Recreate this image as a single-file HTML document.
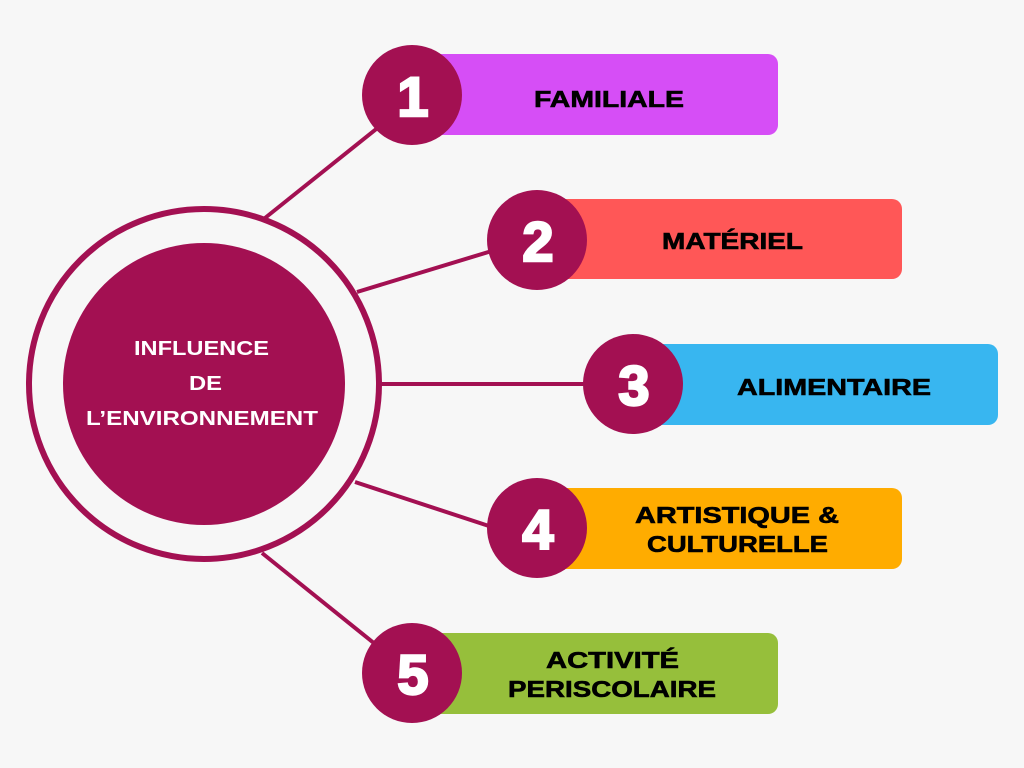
<!DOCTYPE html>
<html><head><meta charset="utf-8"><style>
body{margin:0;background:#f7f7f7;}
svg{display:block}
text{font-family:"Liberation Sans",sans-serif;font-weight:bold;}
</style></head><body>
<svg width="1024" height="768" viewBox="0 0 1024 768">
<rect width="1024" height="768" fill="#f7f7f7"/>
<g stroke="#a31052" stroke-width="4">
<line x1="265" y1="218" x2="385" y2="122"/>
<line x1="357" y1="292" x2="495" y2="250"/>
<line x1="380" y1="384" x2="590" y2="384"/>
<line x1="355" y1="482" x2="495" y2="528"/>
<line x1="262" y1="553" x2="380" y2="648"/>
</g>
<rect x="430" y="54" width="348" height="81" rx="10" fill="#d64ef6"/>
<rect x="555" y="199" width="347" height="80" rx="10" fill="#ff5757"/>
<rect x="650" y="344" width="348" height="81" rx="10" fill="#38b6f0"/>
<rect x="555" y="488" width="347" height="81" rx="10" fill="#ffac00"/>
<rect x="430" y="633" width="348" height="81" rx="10" fill="#96bf3b"/>
<circle cx="204" cy="384" r="175" fill="none" stroke="#a31052" stroke-width="6"/>
<circle cx="204" cy="384" r="141" fill="#a31052"/>
<g fill="#a31052">
<circle cx="412" cy="95" r="50"/>
<circle cx="537" cy="240" r="50"/>
<circle cx="633" cy="384" r="50"/>
<circle cx="537" cy="528" r="50"/>
<circle cx="412" cy="673" r="50"/>
</g>
<g fill="#fff" stroke="#fff" stroke-width="2.5" font-size="56" text-anchor="middle">
<text x="413" y="116">1</text>
<text x="538" y="261">2</text>
<text x="634" y="405">3</text>
<text x="538" y="549">4</text>
<text x="413" y="694">5</text>
</g>
<g fill="#fff" font-size="20">
<text x="134" y="355" textLength="135" lengthAdjust="spacingAndGlyphs">INFLUENCE</text>
<text x="189" y="390" textLength="33" lengthAdjust="spacingAndGlyphs">DE</text>
<text x="86" y="425" textLength="232" lengthAdjust="spacingAndGlyphs">L’ENVIRONNEMENT</text>
</g>
<g fill="#000" font-size="23" stroke="#000" stroke-width="0.6">
<text x="534" y="107" textLength="150" lengthAdjust="spacingAndGlyphs">FAMILIALE</text>
<text x="662" y="249" textLength="141" lengthAdjust="spacingAndGlyphs">MATÉRIEL</text>
<text x="737" y="395" textLength="194" lengthAdjust="spacingAndGlyphs">ALIMENTAIRE</text>
<text x="635" y="523" textLength="204" lengthAdjust="spacingAndGlyphs">ARTISTIQUE &amp;</text>
<text x="647" y="552" textLength="181" lengthAdjust="spacingAndGlyphs">CULTURELLE</text>
<text x="546" y="668" textLength="133" lengthAdjust="spacingAndGlyphs">ACTIVITÉ</text>
<text x="508" y="697" textLength="208" lengthAdjust="spacingAndGlyphs">PERISCOLAIRE</text>
</g>
</svg>
</body></html>
